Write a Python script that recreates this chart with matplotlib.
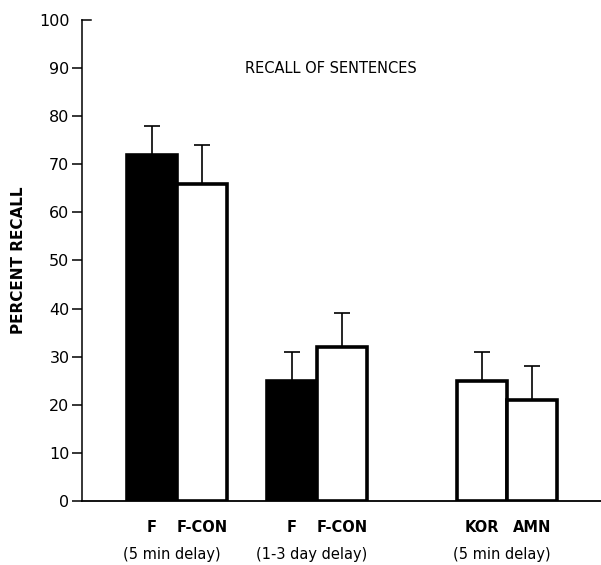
import matplotlib
matplotlib.use("Agg")
import matplotlib.pyplot as plt
import numpy as np

# values
groups = ["(5 min delay)", "(1-3 day delay)", "(5 min delay)"]
bar_labels = ["F", "F-CON", "F", "F-CON", "KOR", "AMN"]
recall = [72, 66, 25, 32, 25, 21]
err_top = [78, 74, 31, 39, 31, 28]
bar_fill = ["black", "white", "black", "white", "white", "white"]
yticks = [0, 10, 20, 30, 40, 50, 60, 70, 80, 90, 100]

group_centers = [1.9, 4.7, 8.5]
width = 1.0

xpos = []
for c in group_centers:
    xpos.append(c - width / 2)
    xpos.append(c + width / 2)
xpos = np.array(xpos)
recall = np.array(recall)
upper = np.array(err_top) - recall

fig = plt.figure(figsize=(6.01, 5.65), dpi=100)
ax = fig.add_axes([0.1364, 0.1133, 0.8636, 0.8513])

ax.bar(xpos, recall, width=width, color=bar_fill, edgecolor="black",
       linewidth=2.6, zorder=2)
ax.errorbar(xpos, recall, yerr=[np.zeros_like(upper), upper], fmt="none",
            ecolor="black", elinewidth=1.2, capsize=5.5, capthick=1.2, zorder=1)

ax.set_xlim(0, 10.38)
ax.set_ylim(0, 100)
ax.set_yticks(yticks)
ax.set_yticklabels([str(t) for t in yticks], fontsize=11.5)
ax.set_xticks([])
ax.tick_params(axis="y", direction="out", length=7, width=1.1, pad=2)
# the 100 mark points inward in the original, drawn by the short top spine
ax.yaxis.get_major_ticks()[-1].tick1line.set_visible(False)

ax.spines["right"].set_visible(False)
ax.spines["top"].set_bounds(0, 0.18)
ax.spines["top"].set_linewidth(1.1)
ax.spines["left"].set_linewidth(1.1)
ax.spines["bottom"].set_linewidth(1.3)

ax.set_ylabel("PERCENT RECALL", fontsize=11, fontweight="bold", labelpad=9)

ax.text(0.48, 0.90, "RECALL OF SENTENCES", transform=ax.transAxes,
        ha="center", va="center", fontsize=10.5)

for x, lab in zip(xpos, bar_labels):
    ax.text(x, -5.5, lab, ha="center", va="center", fontsize=10.5,
            fontweight="bold", clip_on=False)
for c, g in zip(group_centers, groups):
    ax.text(c - 0.1, -11.2, g, ha="center", va="center", fontsize=10.5,
            clip_on=False)

fig.savefig("out.png", dpi=100)
